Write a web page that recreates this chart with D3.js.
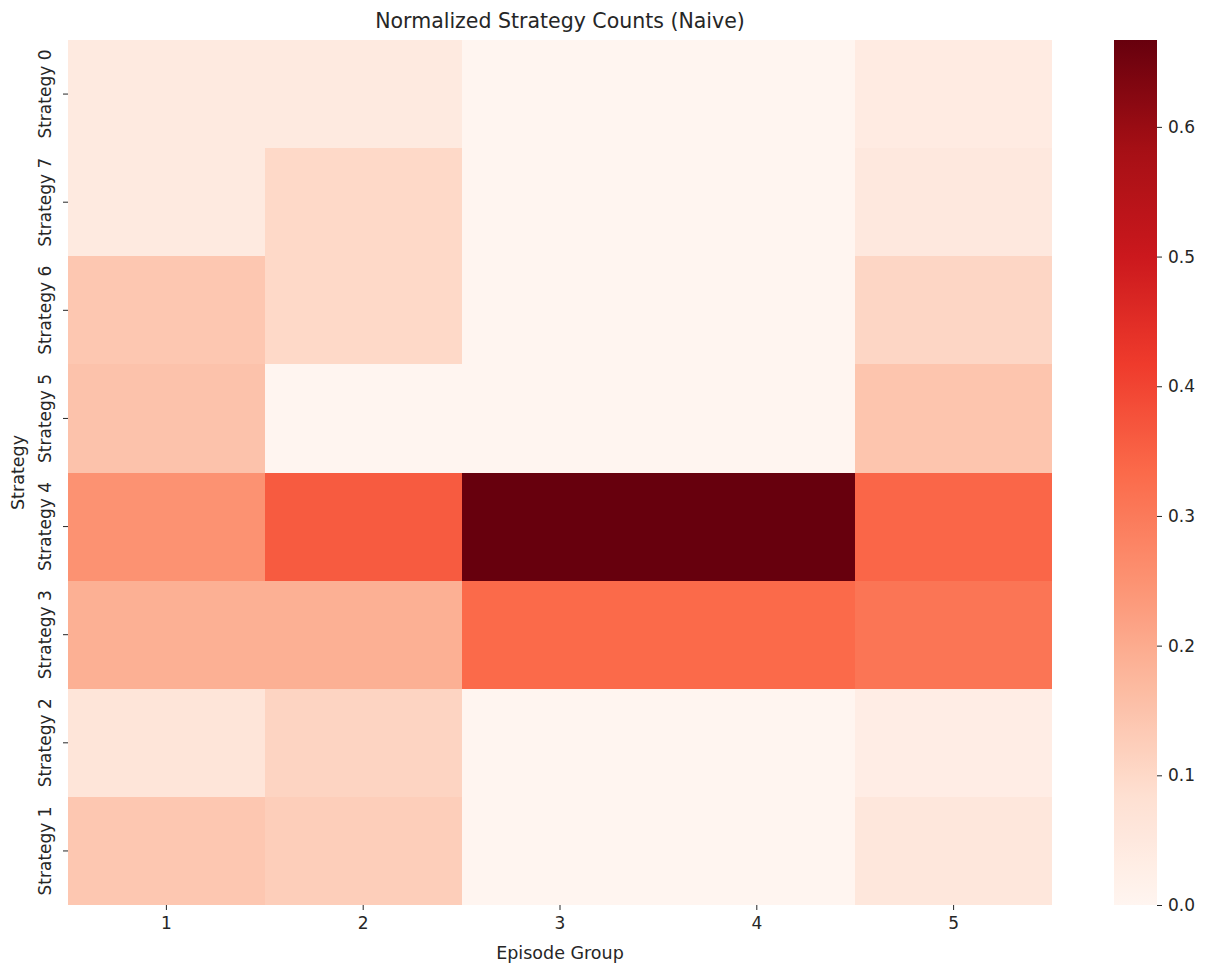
<!DOCTYPE html>
<html lang="en">
<head>
<meta charset="UTF-8"/>
<title>Normalized Strategy Counts (Naive)</title>
<script src="https://d3js.org/d3.v7.min.js"></script>
<style>
	body { margin: 0; background: #fff; }
	text { font-family: "DejaVu Sans", sans-serif; fill: #262626; }
	.cell { shape-rendering: crispEdges; }
	.axis path { display: none; }
	.axis line { stroke: #262626; }
	.axis text { font-size: 17px; fill: #262626; }
</style>
</head>
<body>
<div id="chart"></div>
<script>
	// data: rows top to bottom, columns = episode groups
	var groups = ["1", "2", "3", "4", "5"];
	var strategies = ["Strategy 0", "Strategy 7", "Strategy 6", "Strategy 5", "Strategy 4", "Strategy 3", "Strategy 2", "Strategy 1"];
	var s0 = [0.045, 0.045, 0.0, 0.0, 0.040];
	var s7 = [0.045, 0.100, 0.0, 0.0, 0.050];
	var s6 = [0.140, 0.100, 0.0, 0.0, 0.105];
	var s5 = [0.150, 0.000, 0.0, 0.0, 0.145];
	var s4 = [0.250, 0.360, 0.667, 0.667, 0.340];
	var s3 = [0.190, 0.190, 0.333, 0.333, 0.310];
	var s2 = [0.065, 0.110, 0.0, 0.0, 0.030];
	var s1 = [0.140, 0.125, 0.0, 0.0, 0.055];
	var values = [s0, s7, s6, s5, s4, s3, s2, s1];
	var cbTicks = [0.0, 0.1, 0.2, 0.3, 0.4, 0.5, 0.6];
	var vmax = 0.667;

	var w = 1206, h = 965;
	var plotLeft = 68, plotRight = 1052, plotTop = 40, plotBottom = 905;

	// matplotlib Reds
	var redsColors = ["#fff5f0", "#fee0d2", "#fcbba1", "#fc9272", "#fb6a4a", "#ef3b2c", "#cb181d", "#a50f15", "#67000d"];
	var color = d3.scaleLinear()
		.domain(redsColors.map(function(c, i) { return vmax * i / (redsColors.length - 1); }))
		.range(redsColors)
		.interpolate(d3.interpolateRgb)
		.clamp(true);

	var cells = [];
	strategies.forEach(function(s, i) {
		groups.forEach(function(g, j) {
			cells.push({ strategy: s, group: g, value: values[i][j] });
		});
	});

	var x = d3.scaleBand().domain(groups).range([plotLeft, plotRight]);
	var y = d3.scaleBand().domain(strategies).range([plotTop, plotBottom]);

	var svg = d3.select("#chart").append("svg")
		.attr("width", w)
		.attr("height", h);

	svg.selectAll("rect.cell")
		.data(cells)
		.enter().append("rect")
		.attr("class", "cell")
		.attr("x", function(d) { return Math.round(x(d.group)); })
		.attr("y", function(d) { return Math.round(y(d.strategy)); })
		.attr("width", function(d) { return Math.round(x(d.group) + x.bandwidth()) - Math.round(x(d.group)); })
		.attr("height", function(d) { return Math.round(y(d.strategy) + y.bandwidth()) - Math.round(y(d.strategy)); })
		.attr("fill", function(d) { return color(d.value); });

	var xAxis = d3.axisBottom(x).tickSize(5).tickPadding(7);
	svg.append("g")
		.attr("class", "axis")
		.attr("transform", "translate(0," + plotBottom + ")")
		.call(xAxis);

	var yAxis = d3.axisLeft(y).tickSize(5).tickPadding(4);
	var gy = svg.append("g")
		.attr("class", "axis")
		.attr("transform", "translate(" + plotLeft + ",0)")
		.call(yAxis);
	gy.selectAll(".tick text")
		.attr("transform", "rotate(-90)")
		.attr("x", 0)
		.attr("y", -17)
		.attr("dy", 0)
		.style("text-anchor", "middle");

	svg.append("text")
		.attr("x", (plotLeft + plotRight) / 2)
		.attr("y", 28)
		.attr("text-anchor", "middle")
		.style("font-size", "20.5px")
		.text("Normalized Strategy Counts (Naive)");

	svg.append("text")
		.attr("x", (plotLeft + plotRight) / 2)
		.attr("y", 959)
		.attr("text-anchor", "middle")
		.style("font-size", "17.5px")
		.text("Episode Group");

	svg.append("text")
		.attr("transform", "translate(24," + ((plotTop + plotBottom) / 2) + ") rotate(-90)")
		.attr("text-anchor", "middle")
		.style("font-size", "17.5px")
		.text("Strategy");

	// colorbar
	var cbLeft = 1114, cbRight = 1157;
	var cbScale = d3.scaleLinear().domain([0, vmax]).range([plotBottom, plotTop]);
	var grad = svg.append("defs").append("linearGradient")
		.attr("id", "cbgrad")
		.attr("x1", 0).attr("y1", 1).attr("x2", 0).attr("y2", 0);
	d3.range(0, 41).forEach(function(i) {
		grad.append("stop")
			.attr("offset", (i / 40 * 100) + "%")
			.attr("stop-color", color(vmax * i / 40));
	});
	svg.append("rect")
		.attr("x", cbLeft)
		.attr("y", plotTop)
		.attr("width", cbRight - cbLeft)
		.attr("height", plotBottom - plotTop)
		.attr("fill", "url(#cbgrad)");

	var cbAxis = d3.axisRight(cbScale)
		.tickValues(cbTicks)
		.tickFormat(d3.format(".1f"))
		.tickSize(5)
		.tickPadding(6);
	svg.append("g")
		.attr("class", "axis")
		.attr("transform", "translate(" + cbRight + ",0)")
		.call(cbAxis);
</script>
</body>
</html>
